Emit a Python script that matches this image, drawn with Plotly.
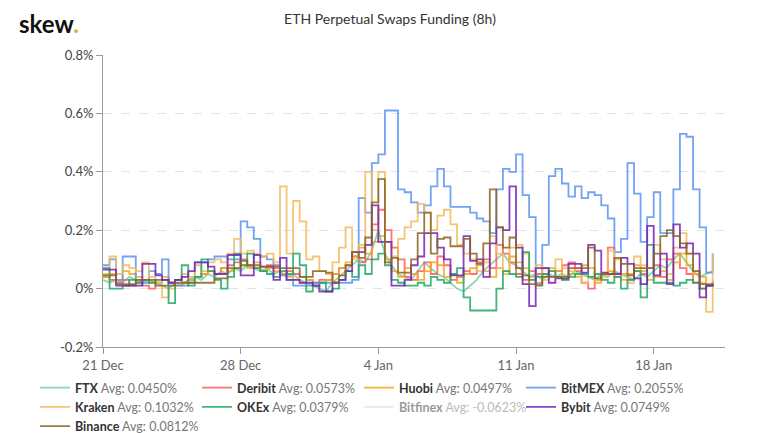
import pandas as pd
import plotly.graph_objects as go

# 8-hour funding periods starting 21 Dec 2020 00:00 UTC
times = pd.date_range("2020-12-21 00:00", periods=94, freq="8h")

series_names = ["FTX", "Deribit", "Huobi", "BitMEX", "Kraken", "OKEx", "Bitfinex", "Bybit", "Binance"]
averages = ["0.0450%", "0.0573%", "0.0497%", "0.2055%", "0.1032%", "0.0379%", "-0.0623%", "0.0749%", "0.0812%"]

ftx = [0.03,0.02,0.03,0.02,0.04,0.03,0.02,0.03,0.02,0.01,0.00,0.02,0.01,0.03,0.04,0.03,0.05,0.04,0.06,0.05,
       0.07,0.06,0.08,0.07,0.06,0.07,0.05,0.06,0.04,0.05,0.03,0.02,0.01,0.00,-0.01,0.02,0.04,0.06,0.08,0.10,
       0.09,0.13,0.20,0.12,0.08,0.05,0.04,0.03,0.06,0.09,0.07,0.05,0.04,0.02,0.00,-0.01,0.01,0.03,0.06,0.08,
       0.10,0.12,0.09,0.08,0.06,0.04,0.05,0.03,0.05,0.04,0.05,0.04,0.06,0.05,0.04,0.03,0.05,0.04,0.06,0.05,
       0.04,0.03,0.05,0.04,0.06,0.08,0.07,0.10,0.12,0.09,0.06,0.04,0.05,0.06]

deribit = [0.04,0.03,0.02,0.03,0.01,0.02,0.01,0.00,0.02,0.03,0.02,0.03,0.02,0.03,0.04,0.05,0.06,0.05,0.07,0.08,
           0.09,0.10,0.08,0.07,0.06,0.08,0.07,0.05,0.06,0.05,0.04,0.03,0.02,0.03,0.03,0.05,0.07,0.08,0.11,0.09,
           0.10,0.22,0.27,0.20,0.14,0.10,0.04,0.03,0.06,0.09,0.05,0.11,0.08,0.03,0.04,0.06,0.05,0.09,0.10,0.07,
           0.15,0.12,0.09,0.05,0.03,0.06,0.05,0.07,0.04,0.06,0.08,0.09,0.06,0.02,0.00,0.03,0.05,0.14,0.04,0.05,
           0.03,0.06,0.05,0.07,0.08,0.04,0.10,0.12,0.07,0.05,0.02,0.00,0.01,0.02]

huobi = [0.04,0.05,0.03,0.06,0.05,0.04,0.03,0.02,0.03,0.04,0.02,0.01,0.02,0.03,0.04,0.05,0.06,0.05,0.07,0.06,
         0.07,0.08,0.07,0.09,0.06,0.07,0.06,0.05,0.04,0.03,0.02,0.03,0.01,0.02,0.03,0.05,0.07,0.09,0.11,0.14,
         0.12,0.16,0.18,0.10,0.06,0.04,0.07,0.05,0.03,0.06,0.09,0.08,0.04,0.05,0.02,0.05,0.07,0.08,0.06,0.04,
         0.07,0.06,0.11,0.09,0.07,0.04,0.02,0.05,0.07,0.06,0.03,0.05,0.04,0.08,0.07,0.02,0.05,0.06,0.04,0.03,
         0.05,0.08,0.06,0.03,0.04,0.06,0.03,0.09,0.12,0.08,0.05,0.04,0.01,0.03]

bitmex = [0.08,0.10,0.03,0.11,0.11,0.03,0.02,0.06,0.05,0.10,0.02,0.01,0.01,0.02,0.09,0.09,0.10,0.11,0.11,0.10,
          0.10,0.23,0.21,0.17,0.11,0.10,0.08,0.045,0.03,0.01,0.01,0.01,0.02,0.02,0.02,0.02,0.02,0.02,0.03,0.31,
          0.26,0.43,0.46,0.61,0.61,0.34,0.33,0.295,0.26,0.285,0.35,0.41,0.35,0.28,0.28,0.28,0.26,0.24,0.23,0.19,
          0.34,0.41,0.40,0.46,0.32,0.245,0.015,0.15,0.385,0.41,0.36,0.315,0.35,0.31,0.33,0.32,0.285,0.24,0.125,0.17,
          0.43,0.325,0.16,0.245,0.33,0.19,0.19,0.34,0.53,0.52,0.34,0.21,0.055,0.12]

kraken = [0.05,0.11,0.05,0.08,0.07,0.06,0.09,0.04,0.02,-0.03,0.00,0.03,0.05,0.04,0.08,0.06,0.09,0.10,0.09,0.12,
          0.17,0.12,0.13,0.12,0.11,0.12,0.09,0.35,0.12,0.30,0.23,0.10,0.11,0.06,0.05,0.09,0.14,0.21,0.10,0.15,
          0.40,0.20,0.40,0.16,0.11,0.17,0.21,0.23,0.29,0.26,0.20,0.25,0.27,0.22,0.15,0.12,0.10,0.06,0.09,0.18,
          0.12,0.05,0.14,0.15,0.12,0.03,0.08,0.03,0.06,0.10,0.07,0.06,0.07,0.02,0.04,0.03,0.04,0.13,0.10,0.05,
          0.02,0.11,0.08,0.07,0.15,0.10,0.05,0.14,0.19,0.12,0.06,0.02,-0.08,0.12]

okex = [0.07,0.00,0.00,0.01,0.03,0.02,0.03,0.02,0.03,0.03,-0.05,0.03,0.08,0.01,0.04,0.10,0.06,0.03,0.00,0.04,
        0.12,0.08,0.12,0.07,0.06,0.05,0.04,0.06,0.05,0.12,0.08,-0.01,0.01,0.02,-0.01,0.00,0.03,0.06,0.04,0.08,
        0.05,0.10,0.12,0.08,0.03,0.02,0.01,0.01,0.02,0.01,0.04,0.03,0.02,0.05,0.07,-0.03,-0.075,-0.075,-0.075,-0.075,
        0.00,0.06,0.05,0.04,0.125,0.03,0.04,0.05,0.06,0.04,0.03,0.04,0.05,0.05,0.04,0.05,0.03,0.02,0.04,0.00,
        0.03,0.06,-0.03,0.15,0.02,0.02,0.02,0.01,0.02,0.03,0.02,0.00,0.01,0.02]

bitfinex = [-0.05,-0.06,-0.07,-0.05,-0.06,-0.08,-0.06,-0.05,-0.07,-0.06,-0.06,-0.05,-0.07,-0.06,-0.05,-0.06,-0.07,-0.06,-0.05,-0.06,
            -0.07,-0.06,-0.05,-0.06,-0.07,-0.06,-0.05,-0.06,-0.07,-0.06,-0.05,-0.06,-0.07,-0.06,-0.05,-0.06,-0.07,-0.06,-0.05,-0.06,
            -0.07,-0.06,-0.05,-0.06,-0.07,-0.06,-0.05,-0.06,-0.07,-0.06,-0.05,-0.06,-0.07,-0.06,-0.05,-0.06,-0.07,-0.06,-0.05,-0.06,
            -0.07,-0.06,-0.05,-0.06,-0.07,-0.06,-0.05,-0.06,-0.07,-0.06,-0.05,-0.06,-0.07,-0.06,-0.05,-0.06,-0.07,-0.06,-0.05,-0.06,
            -0.07,-0.06,-0.05,-0.06,-0.07,-0.06,-0.05,-0.06,-0.07,-0.06,-0.05,-0.06,-0.07,-0.06]

bybit = [0.065,0.065,0.01,0.01,0.01,0.01,0.085,0.085,0.045,0.03,0.02,0.03,0.04,0.06,0.09,0.09,0.075,0.05,0.05,0.115,
         0.115,0.045,0.045,0.115,0.075,0.075,0.03,0.105,0.03,0.03,0.02,0.02,0.01,-0.01,-0.01,0.02,0.03,0.06,0.125,0.125,
         0.15,0.285,0.16,0.16,0.01,0.01,0.03,0.08,0.11,0.19,0.19,0.14,0.10,0.045,0.045,0.18,0.095,0.10,0.04,0.155,
         0.21,0.20,0.35,0.14,0.015,-0.06,0.07,0.07,0.02,0.035,0.035,0.085,0.085,0.055,0.15,0.13,0.055,0.05,0.05,0.105,
         0.085,0.035,0.015,0.215,0.045,0.12,0.015,0.22,0.14,0.155,0.12,-0.03,0.01,0.015]

binance = [0.045,0.045,0.015,0.015,0.015,0.03,0.03,0.03,0.01,0.01,0.01,0.02,0.02,0.02,0.02,0.02,0.02,0.035,0.035,0.07,
           0.07,0.095,0.08,0.08,0.075,0.075,0.075,0.07,0.07,0.07,0.04,0.04,0.06,0.06,0.055,0.02,0.045,0.08,0.125,0.105,
           0.175,0.295,0.375,0.09,0.105,0.055,0.055,0.10,0.19,0.26,0.12,0.17,0.175,0.145,0.145,0.17,0.12,0.085,0.155,0.34,
           0.21,0.14,0.175,0.07,0.045,0.015,0.01,0.04,0.04,0.04,0.04,0.07,0.07,0.07,0.14,0.035,0.05,0.05,0.105,0.085,
           0.045,0.07,0.07,0.07,0.12,0.18,0.20,0.18,0.155,0.12,0.06,0.015,0.015,0.015]

y_tick_vals = [-0.2, 0.0, 0.2, 0.4, 0.6, 0.8]
y_tick_text = ["-0.2%", "0%", "0.2%", "0.4%", "0.6%", "0.8%"]
x_tick_vals = ["2020-12-21", "2020-12-28", "2021-01-04", "2021-01-11", "2021-01-18"]
x_tick_text = ["21 Dec", "28 Dec", "4 Jan", "11 Jan", "18 Jan"]

values = [ftx, deribit, huobi, bitmex, kraken, okex, bitfinex, bybit, binance]
colors = ["#72d3a0", "#ff5a5a", "#f5a623", "#5b93f4", "#f3bb5c", "#22a866", "#cccccc", "#7422b8", "#8a6424"]
shapes = ["linear", "hv", "hv", "hv", "hv", "hv", "hv", "hv", "hv"]

fig = go.Figure()
for name, avg, vals, col, shp in zip(series_names, averages, values, colors, shapes):
    fig.add_trace(go.Scatter(
        x=times, y=vals, mode="lines",
        name=f"<b>{name}</b> <span style='color:#777'>Avg: {avg}</span>",
        line=dict(color=col, width=1.8, shape=shp),
        opacity=0.85,
        visible="legendonly" if name == "Bitfinex" else True,
    ))

# page body adds an 8px offset, so the figure is 767x425
W, H = 767, 425
L, R, T, B = 95, 50, 47, 86
plot_w, plot_h = W - L - R, H - T - B

fig.update_layout(
    width=W, height=H,
    paper_bgcolor="white", plot_bgcolor="white",
    font=dict(family="Lato, 'Open Sans', sans-serif", color="#444", size=12),
    margin=dict(l=L, r=R, t=T, b=B, autoexpand=False),
    title=dict(text="ETH Perpetual Swaps Funding (8h)", x=382 / W, xanchor="center",
               yref="container", y=1 - 11 / H, yanchor="middle", font=dict(size=14, color="#333")),
    showlegend=True,
    legend=dict(orientation="h", xref="paper", x=(27 - L) / plot_w, xanchor="left",
                yref="paper", y=-(365 - (H - B)) / plot_h, yanchor="top",
                entrywidth=117, entrywidthmode="pixels",
                font=dict(size=12.5, color="#333"), tracegroupgap=0,
                bgcolor="rgba(0,0,0,0)"),
    annotations=[dict(text="<b>skew</b><span style='color:#f5a623'><b>.</b></span>",
                      xref="paper", yref="paper", x=(9 - L) / plot_w, y=1 + (T - 16) / plot_h,
                      xanchor="left", yanchor="middle",
                      showarrow=False, font=dict(size=24, color="#111", family="Lato, sans-serif"))],
)

fig.update_xaxes(
    range=["2020-12-21 00:00", "2021-01-21 15:00"],
    tickvals=x_tick_vals, ticktext=x_tick_text,
    showgrid=False, zeroline=False,
    showline=True, linecolor="#999", linewidth=1,
    ticks="outside", ticklen=6, tickcolor="#999",
    tickfont=dict(size=13, color="#666"),
)
fig.update_yaxes(
    range=[-0.2, 0.8],
    tickvals=y_tick_vals, ticktext=y_tick_text,
    showgrid=True, gridcolor="#e3e3e3", griddash="dash", gridwidth=1,
    zeroline=False,
    showline=True, linecolor="#999", linewidth=1,
    ticks="outside", ticklen=6, tickcolor="#999",
    tickfont=dict(size=13, color="#444"),
)

fig.write_html("out.html")
